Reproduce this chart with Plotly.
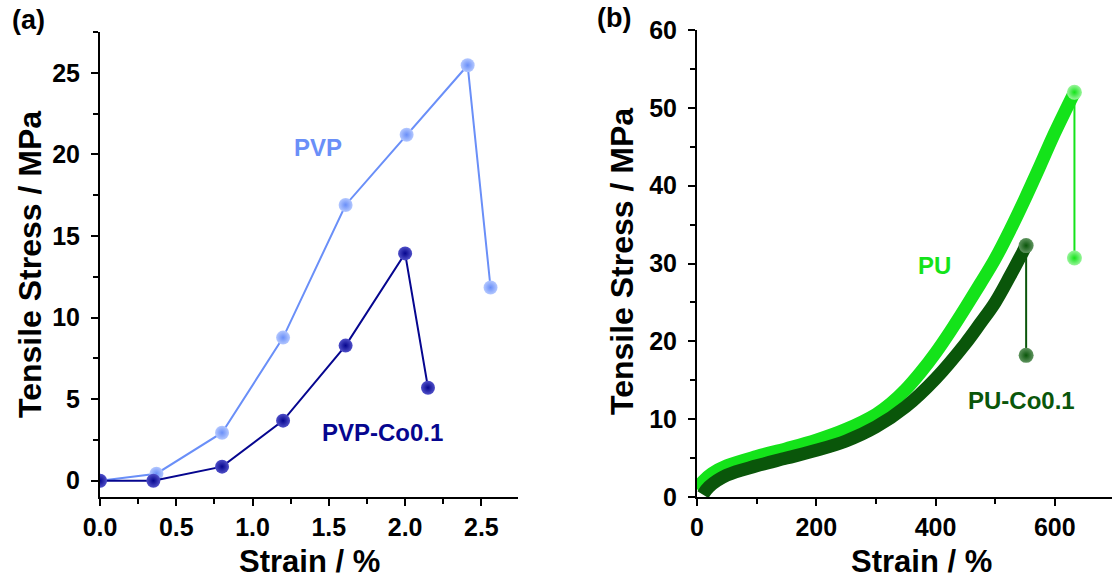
import plotly.graph_objects as go

# ---------------- data (a) ----------------
pvp_strain = [0.0, 0.37, 0.80, 1.20, 1.61, 2.01, 2.41, 2.56]
pvp_stress = [0.0, 0.43, 2.94, 8.77, 16.9, 21.2, 25.46, 11.84]
pvpco_strain = [0.0, 0.35, 0.80, 1.20, 1.61, 2.00, 2.15]
pvpco_stress = [0.0, 0.0, 0.86, 3.68, 8.28, 13.93, 5.7]

# ---------------- data (b) ----------------
pu_strain = [0, 10, 25, 50, 100, 150, 200, 250, 300, 325, 350, 375, 400, 425, 450, 475,
             500, 525, 550, 575, 600, 633]
pu_stress = [1.0, 2.0, 3.0, 4.0, 5.2, 6.2, 7.3, 8.7, 10.6, 12.0, 13.8, 16.0, 18.5, 21.3,
             24.3, 27.4, 30.6, 34.3, 38.3, 42.5, 46.8, 52.0]
pu_break_strain = [633, 633]
pu_break_stress = [52.0, 30.7]

puco_strain = [10, 20, 50, 100, 150, 200, 250, 300, 350, 400, 450, 475, 500, 525, 552]
puco_stress = [0.3, 1.3, 2.8, 4.0, 5.0, 6.0, 7.2, 9.0, 11.6, 15.2, 19.7, 22.3, 25.0, 28.4, 32.3]
puco_break_strain = [552, 552]
puco_break_stress = [32.3, 18.2]

# colors
C_PVP = "#6a8ff8"
C_PVP_HI = "#b4c8ff"
C_PVPCO = "#06068f"
C_PVPCO_HI = "#5050c8"
C_PU = "#14e31a"
C_PU_HI = "#9af59c"
C_PUCO = "#0a560a"
C_PUCO_HI = "#5f945f"

FONT = "Arial, Liberation Sans, sans-serif"

fig = go.Figure()


def sphere(color, hi, size=14):
    return dict(size=size, color=hi, line=dict(width=0),
                gradient=dict(type="radial", color=color))


# (a)
fig.add_trace(go.Scatter(x=pvp_strain, y=pvp_stress, mode="lines+markers",
                         line=dict(color=C_PVP, width=2),
                         marker=sphere(C_PVP, C_PVP_HI),
                         xaxis="x", yaxis="y", showlegend=False))
fig.add_trace(go.Scatter(x=pvpco_strain, y=pvpco_stress, mode="lines+markers",
                         line=dict(color=C_PVPCO, width=2),
                         marker=sphere(C_PVPCO, C_PVPCO_HI),
                         xaxis="x", yaxis="y", showlegend=False))

# (b)
fig.add_trace(go.Scatter(x=pu_strain, y=pu_stress, mode="lines",
                         line=dict(color=C_PU, width=13, shape="spline", smoothing=1.0),
                         xaxis="x2", yaxis="y2", showlegend=False))
fig.add_trace(go.Scatter(x=pu_break_strain, y=pu_break_stress, mode="lines+markers",
                         line=dict(color=C_PU, width=2),
                         marker=sphere(C_PU, C_PU_HI, 15),
                         xaxis="x2", yaxis="y2", showlegend=False))
fig.add_trace(go.Scatter(x=puco_strain, y=puco_stress, mode="lines",
                         line=dict(color=C_PUCO, width=13, shape="spline", smoothing=1.0),
                         xaxis="x2", yaxis="y2", showlegend=False))
fig.add_trace(go.Scatter(x=puco_break_strain, y=puco_break_stress, mode="lines+markers",
                         line=dict(color=C_PUCO, width=2),
                         marker=sphere(C_PUCO, C_PUCO_HI, 15),
                         xaxis="x2", yaxis="y2", showlegend=False))

W, H = 1112, 580


def px(x):
    return x / W


def py(y):
    return 1 - y / H


tickfont = dict(family=FONT, size=25, color="black", weight="bold")


def ax(domain, rng, dtick, minor, fmt=None):
    d = dict(domain=domain, range=rng, showline=True, linewidth=2, linecolor="black",
             ticks="outside", ticklen=7, tickwidth=2, tickcolor="black",
             showgrid=False, zeroline=False, tickfont=tickfont, dtick=dtick, tick0=0,
             automargin=False,
             minor=dict(ticks="outside", ticklen=5, tickwidth=1.5, tickcolor="black",
                        dtick=minor, showgrid=False),
             fixedrange=True)
    if fmt:
        d["tickformat"] = fmt
    return d


fig.update_layout(
    template="none",
    width=W, height=H,
    margin=dict(l=0, r=0, t=0, b=0, autoexpand=False),
    paper_bgcolor="white", plot_bgcolor="white",
    xaxis=ax([px(100), px(518)], [0, 2.74], 0.5, 0.25, fmt=".1f"),
    yaxis=ax([py(497), py(32)], [-1, 27.5], 5, 2.5),
    xaxis2=ax([px(697), 1.0], [0, 696], 200, 100),
    yaxis2=ax([py(497), py(30)], [0, 60], 10, 5),
)
fig.layout.yaxis.update(anchor="x", ticklabelstandoff=6)
fig.layout.yaxis2.update(anchor="x2", ticklabelstandoff=6)
fig.layout.xaxis.update(anchor="y")
fig.layout.xaxis2.update(anchor="y2")

ann = []
title_font = dict(family=FONT, size=31, color="black", weight="bold")
panel_font = dict(family=FONT, size=27, color="black", weight="bold")
ann.append(dict(text="(a)", x=px(10), y=py(20), xref="paper", yref="paper",
                xanchor="left", yanchor="middle", showarrow=False, font=panel_font))
ann.append(dict(text="(b)", x=px(595), y=py(18), xref="paper", yref="paper",
                xanchor="left", yanchor="middle", showarrow=False, font=panel_font))
ann.append(dict(text="Strain / %", x=px(309), y=0, xref="paper", yref="paper",
                xanchor="center", yanchor="bottom", showarrow=False, font=title_font,
                borderpad=0))
ann.append(dict(text="Strain / %", x=px(921), y=0, xref="paper", yref="paper",
                xanchor="center", yanchor="bottom", showarrow=False, font=title_font,
                borderpad=0))
ann.append(dict(text="Tensile Stress / MPa", x=px(30), y=py(265), xref="paper", yref="paper",
                xanchor="center", yanchor="middle", showarrow=False, textangle=-90,
                font=dict(title_font, size=32)))
ann.append(dict(text="Tensile Stress / MPa", x=px(622), y=py(262), xref="paper", yref="paper",
                xanchor="center", yanchor="middle", showarrow=False, textangle=-90,
                font=dict(title_font, size=32)))
# series labels
lab = dict(family=FONT, size=24, weight="bold")
ann.append(dict(text="PVP", x=1.427, y=20.4, xref="x", yref="y", showarrow=False,
                font=dict(lab, color=C_PVP)))
ann.append(dict(text="PVP-Co0.1", x=1.852, y=2.94, xref="x", yref="y", showarrow=False,
                font=dict(lab, color=C_PVPCO)))
ann.append(dict(text="PU", x=398, y=29.7, xref="x2", yref="y2", showarrow=False,
                font=dict(lab, color=C_PU)))
ann.append(dict(text="PU-Co0.1", x=544, y=12.4, xref="x2", yref="y2", showarrow=False,
                font=dict(lab, color=C_PUCO)))
fig.update_layout(annotations=ann)

fig.write_html("out.html", config={"displayModeBar": False},
               post_script="document.body.style.margin='0';document.body.style.overflow='hidden';")
